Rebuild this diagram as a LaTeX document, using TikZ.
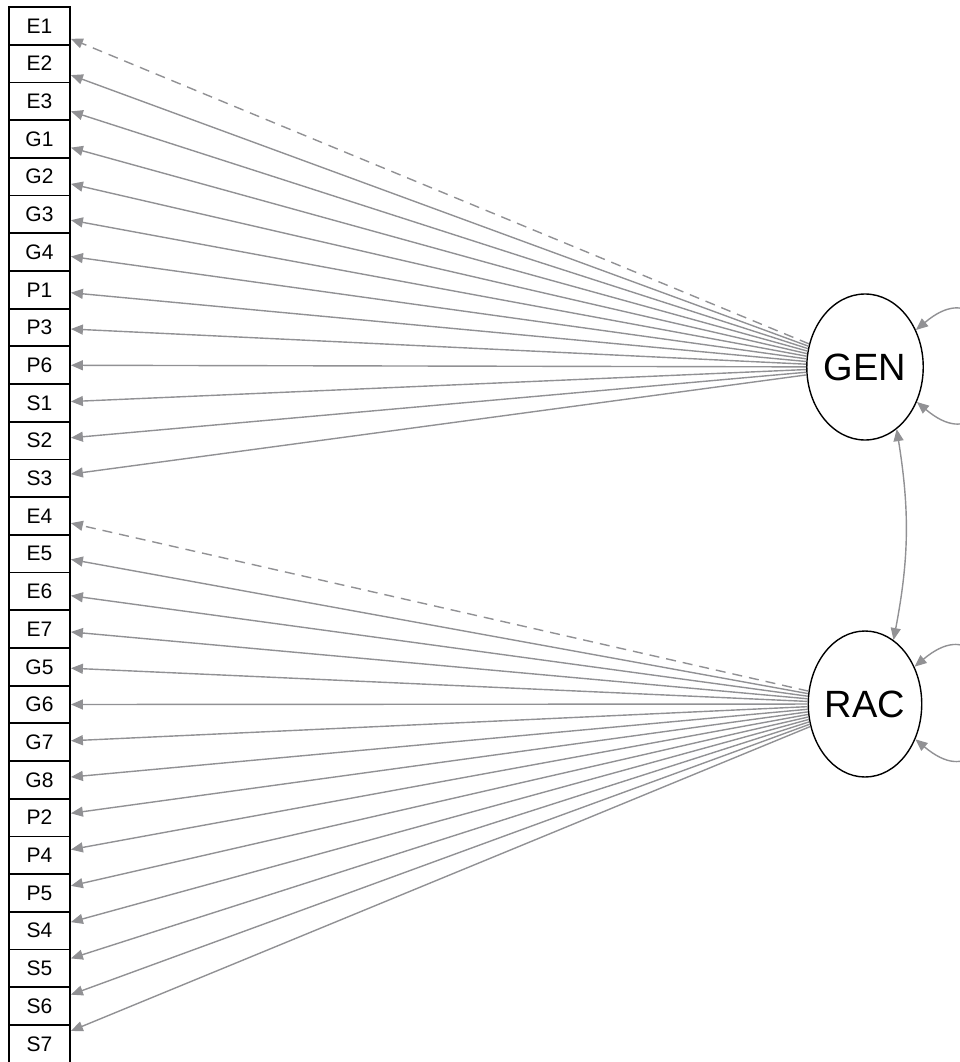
\documentclass[tikz,border=0pt]{standalone}
\usepackage{fontspec}
\setmainfont{Liberation Sans}
\usepackage{tikz}
\usetikzlibrary{shapes.geometric}
\usetikzlibrary{arrows.meta}
\definecolor{edgegray}{RGB}{145,145,148}
\tikzset{>={Triangle[length=12pt, width=10pt]}}
\tikzset{item/.style={draw, line width=1.8pt, minimum width=61pt, minimum height=37.7pt,
  inner sep=0pt, font=\fontsize{21}{21}\selectfont}}
\tikzset{latent/.style={draw, ellipse, line width=1.4pt, minimum width=96pt, minimum height=146pt,
  inner sep=0pt, font=\fontsize{38}{38}\selectfont}}
\tikzset{load/.style={->, draw=edgegray, line width=1.4pt}}
\tikzset{fixed/.style={load, dash pattern=on 10pt off 7pt}}
\begin{document}
\begin{tikzpicture}[x=1pt, y=1pt]
    \useasboundingbox(0, 0)rectangle(959, -1062);
    \foreach \name [count=\k from 0] in {E1,E2,E3,G1,G2,G3,G4,P1,P3,P6,S1,S2,S3,
      E4,E5,E6,E7,G5,G6,G7,G8,P2,P4,P5,S4,S5,S6,S7}
      \node[item](\name)at(39.5, {-25.9-37.7*\k}){\name};
    \node[latent](GEN)at(865, -367){GEN};
    \node[latent](RAC)at(865, -704){RAC};
    \draw[fixed](GEN)--(E1);
    \foreach \name in {E2,E3,G1,G2,G3,G4,P1,P3,P6,S1,S2,S3}
      \draw[load](GEN)--(\name);
    \draw[fixed](RAC)--(E4);
    \foreach \name in {E5,E6,E7,G5,G6,G7,G8,P2,P4,P5,S4,S5,S6,S7}
      \draw[load](RAC)--(\name);
    \draw[load, <->](GEN.36)to[out=40, in=-40, looseness=4.5](GEN.-34);
    \draw[load, <->](RAC.37)to[out=40, in=-40, looseness=4.5](RAC.-35);
    \draw[load, <->](GEN.-63)to[bend left=10](RAC.66);
\end{tikzpicture}
\end{document}
